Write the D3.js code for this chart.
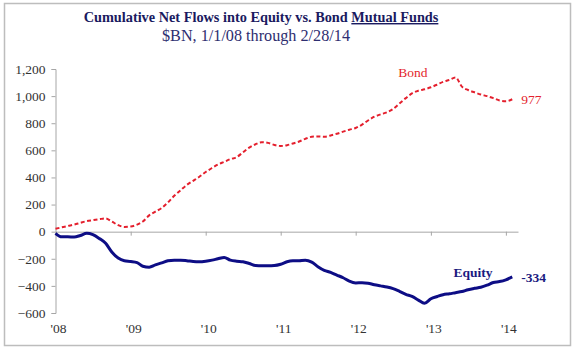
<!DOCTYPE html>
<html>
<head>
<meta charset="utf-8">
<script src="https://cdn.jsdelivr.net/npm/d3@7"></script>
<style>
  body { margin: 0; background: #fff; }
  text { font-family: "Liberation Serif", "DejaVu Serif", serif; }
</style>
</head>
<body>
<div id="chart"></div>
<script>
// data: monthly cumulative net flows, $BN
var months = d3.timeMonth.range(new Date(2008, 0, 1), new Date(2014, 2, 1));

var bond = [22, 32, 42, 52, 65, 78, 85, 92, 98, 75, 48, 35,
    38, 52, 75, 120, 148, 175, 215, 265, 305, 345, 375, 405,
    440, 470, 495, 515, 535, 550, 585, 620, 645, 660, 655, 640,
    632, 638, 650, 665, 685, 700, 702, 700, 710, 722, 738, 752,
    765, 790, 820, 848, 865, 880, 905, 945, 985, 1020, 1040, 1050,
    1065, 1085, 1105, 1120, 1138, 1070, 1045, 1028, 1012, 1000, 985, 968,
    962, 977];

var equity = [-12, -38, -38, -40, -28, -12, -22, -50, -86, -150, -195, -215,
    -220, -228, -255, -262, -245, -230, -215, -210, -210, -214, -220, -222,
    -218, -210, -200, -190, -210, -218, -222, -235, -250, -252, -252, -250,
    -240, -222, -215, -214, -211, -225, -258, -285, -300, -320, -340, -365,
    -378, -376, -380, -392, -400, -408, -420, -440, -462, -478, -505, -528,
    -495, -478, -465, -458, -450, -442, -428, -418, -410, -395, -375, -368,
    -355, -334];

var yTicks = [-600, -400, -200, 0, 200, 400, 600, 800, 1000, 1200];
var xTickLabels = ["'08", "'09", "'10", "'11", "'12", "'13", "'14"];

// chart size
var width = 576;
var height = 353;

var svg = d3.select("#chart")
    .append("svg")
    .attr("width", width)
    .attr("height", height);

// outer frame
svg.append("rect")
    .attr("x", 4.5).attr("y", 3.5)
    .attr("width", 566).attr("height", 342)
    .attr("fill", "none")
    .attr("stroke", "#bdbdbd")
    .attr("stroke-width", 1.5);

// titles
var title = svg.append("text")
    .attr("x", 261).attr("y", 22)
    .attr("text-anchor", "middle")
    .attr("font-size", 14.3)
    .attr("font-weight", "bold")
    .attr("fill", "#1a1a60");
title.append("tspan").text("Cumulative Net Flows into Equity vs. Bond ");
title.append("tspan").attr("text-decoration", "underline").text("Mutual Funds");

svg.append("text")
    .attr("x", 256).attr("y", 41)
    .attr("text-anchor", "middle")
    .attr("font-size", 16.2)
    .attr("fill", "#2e2e70")
    .text("$BN, 1/1/08 through 2/28/14");

// scales
var x = d3.scaleTime()
    .domain([new Date(2008, 0, 1), new Date(2014, 2, 1)])
    .range([55.5, 518]);

var y = d3.scaleLinear()
    .domain([-600, 1200])
    .range([313, 69]);

// y axis
var yAxis = svg.append("g")
    .attr("transform", "translate(55.5,0)")
    .call(d3.axisLeft(y).tickValues(yTicks).tickSize(4).tickPadding(6)
        .tickFormat(d3.format(",")));
yAxis.selectAll("line, path").attr("stroke", "#a6a6a6");
yAxis.selectAll("text")
    .attr("font-size", 13.5)
    .attr("fill", "#333")
    .style("font-family", "Liberation Serif, serif");

// x axis along zero
var xAxis = svg.append("g")
    .attr("transform", "translate(0," + y(0) + ")")
    .call(d3.axisBottom(x).ticks(d3.timeYear.every(1)).tickSize(4)
        .tickSizeOuter(0).tickFormat(""));
xAxis.selectAll("line, path").attr("stroke", "#a6a6a6");

// x tick labels at the bottom
svg.append("g").selectAll("text")
    .data(x.ticks(d3.timeYear.every(1)))
    .enter().append("text")
    .attr("x", function(d) { return x(d) + 3; })
    .attr("y", 333)
    .attr("text-anchor", "middle")
    .attr("font-size", 13.5)
    .attr("fill", "#333")
    .text(function(d, i) { return xTickLabels[i]; });

// lines
var line = d3.line()
    .x(function(d) { return x(d[0]); })
    .y(function(d) { return y(d[1]); })
    .curve(d3.curveMonotoneX);

svg.append("path")
    .datum(d3.zip(months, bond))
    .attr("d", line)
    .attr("fill", "none")
    .attr("stroke", "#e41f2d")
    .attr("stroke-width", 2)
    .attr("stroke-dasharray", "4,2.5");

svg.append("path")
    .datum(d3.zip(months, equity))
    .attr("d", line)
    .attr("fill", "none")
    .attr("stroke", "#0d0d85")
    .attr("stroke-width", 3)
    .attr("stroke-linejoin", "round");

// series labels
var last = months.length - 1;

svg.append("text")
    .attr("x", 413).attr("y", 77)
    .attr("text-anchor", "middle")
    .attr("font-size", 13.5)
    .attr("fill", "#e41f2d")
    .text("Bond");

svg.append("text")
    .attr("x", x(months[last]) + 9)
    .attr("y", y(bond[last]) + 5)
    .attr("font-size", 13.5)
    .attr("fill", "#e41f2d")
    .text(bond[last]);

svg.append("text")
    .attr("x", 473).attr("y", 277)
    .attr("text-anchor", "middle")
    .attr("font-size", 13.5)
    .attr("font-weight", "bold")
    .attr("fill", "#1a1a80")
    .text("Equity");

svg.append("text")
    .attr("x", x(months[last]) + 9)
    .attr("y", y(equity[last]) + 5)
    .attr("font-size", 13.5)
    .attr("font-weight", "bold")
    .attr("fill", "#1a1a80")
    .text(equity[last]);
</script>
</body>
</html>
